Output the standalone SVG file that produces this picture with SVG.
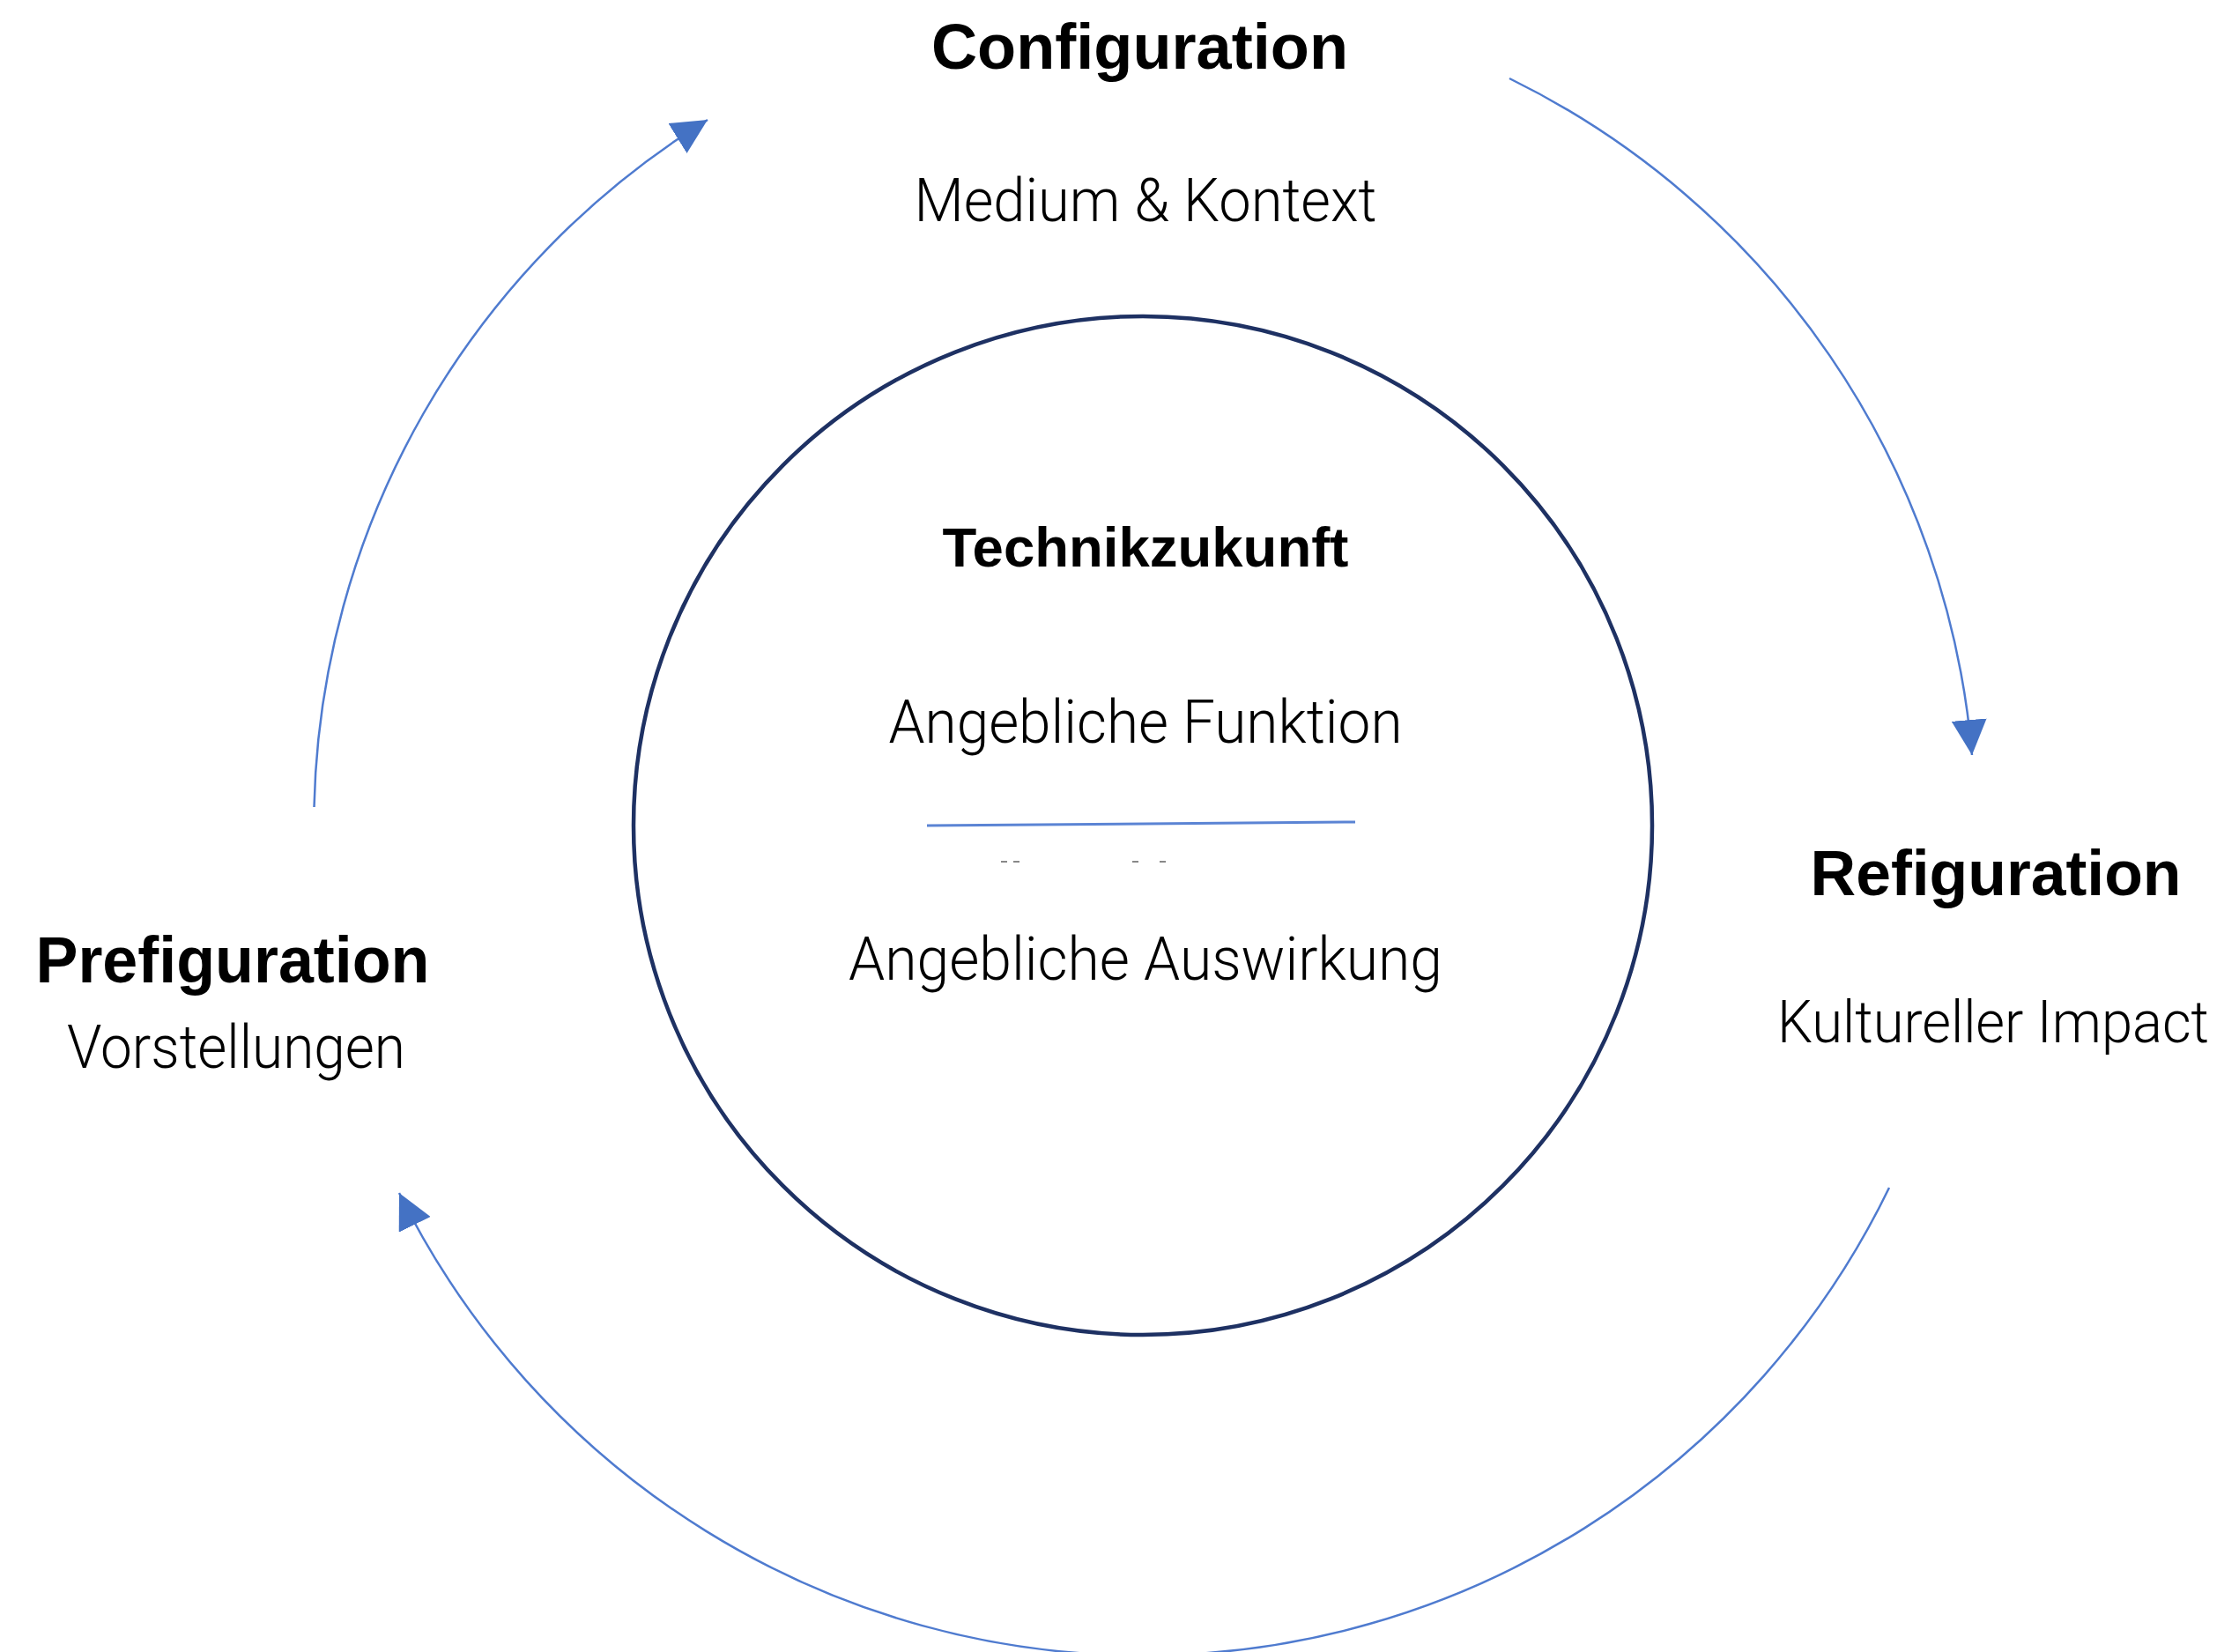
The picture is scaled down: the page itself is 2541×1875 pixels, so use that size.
<svg xmlns="http://www.w3.org/2000/svg" width="2541" height="1875" viewBox="0 0 2541 1875">
<style>
.title{font-family:"Liberation Sans",Arial,sans-serif;font-weight:bold;fill:#000;text-anchor:middle}
.body{font-family:Roboto,"Liberation Sans",sans-serif;font-weight:300;fill:#000;text-anchor:middle}
.arc{fill:none;stroke:#4f7bcf;stroke-width:2.5}
</style>
<defs>
<marker id="ah" markerUnits="userSpaceOnUse" markerWidth="40" markerHeight="40" viewBox="0 0 36 36" refX="36" refY="18" orient="auto">
<path d="M0,0 L36,18 L0,36 Z" fill="#4472C4"/>
</marker>
</defs>
<rect width="2541" height="1875" fill="#fff"/>
<g id="connectors">
<path class="arc" d="M356.5,916 A941,941 0 0 1 803,136" marker-end="url(#ah)"/>
<path class="arc" d="M1713,89 A944,944 0 0 1 2238,857" marker-end="url(#ah)"/>
<path class="arc" d="M2144,1348 A941,941 0 0 1 453,1354" marker-end="url(#ah)"/>
</g>
<g id="center">
<circle cx="1297" cy="937" r="578" fill="none" stroke="#1e3163" stroke-width="4.5"/>
<text class="title" x="1300" y="643" font-size="63" textLength="461" lengthAdjust="spacingAndGlyphs">Technikzukunft</text>
<text class="body" x="1300" y="843" font-size="68" textLength="583" lengthAdjust="spacingAndGlyphs">Angebliche Funktion</text>
<line x1="1052" y1="937" x2="1538" y2="933" stroke="#5b84d4" stroke-width="3"/>
<g fill="#888">
<rect x="1136" y="977" width="7" height="2"/>
<rect x="1150" y="977" width="7" height="2"/>
<rect x="1285" y="977" width="7" height="2"/>
<rect x="1316" y="977" width="7" height="2"/>
</g>
<text class="body" x="1300" y="1112" font-size="68" textLength="674" lengthAdjust="spacingAndGlyphs">Angebliche Auswirkung</text>
</g>
<g id="configuration">
<text class="title" x="1293.5" y="78" font-size="72" textLength="473" lengthAdjust="spacingAndGlyphs">Configuration</text>
<text class="body" x="1300" y="251" font-size="68" textLength="525" lengthAdjust="spacingAndGlyphs">Medium &amp; Kontext</text>
</g>
<g id="refiguration">
<text class="title" x="2265" y="1016" font-size="72" textLength="421" lengthAdjust="spacingAndGlyphs">Refiguration</text>
<text class="body" x="2262" y="1183" font-size="67" textLength="490" lengthAdjust="spacingAndGlyphs">Kultureller Impact</text>
</g>
<g id="prefiguration">
<text class="title" x="264" y="1115" font-size="74" textLength="447" lengthAdjust="spacingAndGlyphs">Prefiguration</text>
<text class="body" x="268" y="1212" font-size="68" textLength="384" lengthAdjust="spacingAndGlyphs">Vorstellungen</text>
</g>
</svg>
